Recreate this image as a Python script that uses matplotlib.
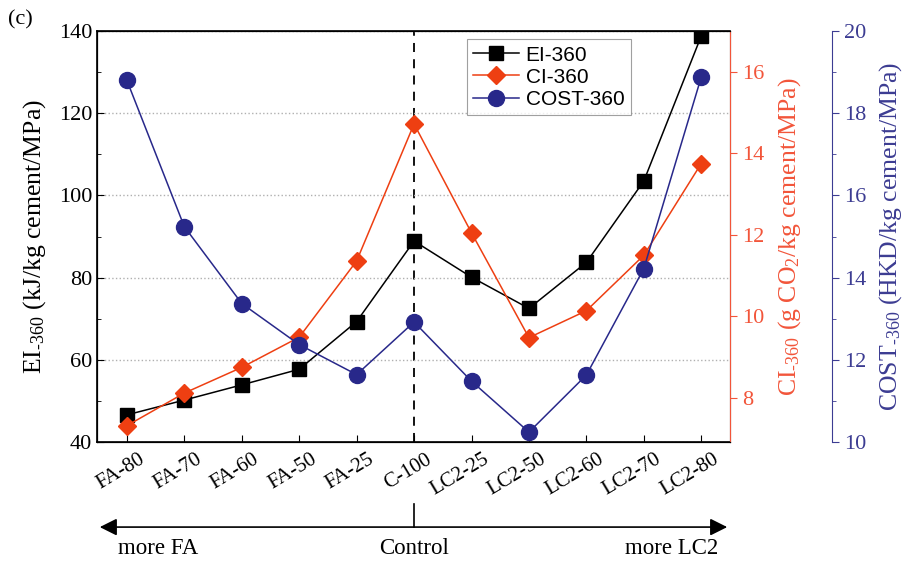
import matplotlib.pyplot as plt
from matplotlib.ticker import MultipleLocator
from matplotlib.transforms import ScaledTranslation

plt.rcParams['font.family'] = 'Liberation Serif'
plt.rcParams['mathtext.fontset'] = 'custom'
plt.rcParams['mathtext.rm'] = 'Liberation Serif'
plt.rcParams['mathtext.it'] = 'Liberation Serif:italic'

# Data
mixes = ["FA-80", "FA-70", "FA-60", "FA-50", "FA-25", "C-100",
         "LC2-25", "LC2-50", "LC2-60", "LC2-70", "LC2-80"]
ei_360 = [46.6, 50.2, 53.9, 57.7, 69.3, 88.9, 80.1, 72.5, 83.7, 103.5, 138.8]
ci_360 = [7.32, 8.12, 8.75, 9.49, 11.36, 14.72, 12.05, 9.48, 10.14, 11.50, 13.75]
cost_360 = [18.80, 15.24, 13.37, 12.37, 11.64, 12.92, 11.48, 10.24, 11.63, 14.22, 18.88]

red = '#EE3F12'
red_axis = '#F2553A'
blue = '#28288A'
blue_axis = '#3C3C92'

x = list(range(len(mixes)))
sub = '$_{\\mathregular{\u2010360}}$'   # "-360" subscript with a plain hyphen

fig = plt.figure(figsize=(9.04, 5.64), dpi=100)
ax = fig.add_axes([0.1073, 0.2163, 0.7002, 0.7287])
ax2 = ax.twinx()
ax3 = ax.twinx()
ax3.spines['right'].set_position(('outward', 102 * 72 / 100))

l1, = ax.plot(x, ei_360, color='black', marker='s', markersize=9.5, lw=1.1, label='EI-360', zorder=3)
l2, = ax2.plot(x, ci_360, color=red, marker='D', markersize=9.5, lw=1.1, label='CI-360')
l3, = ax3.plot(x, cost_360, color=blue, marker='o', markersize=11.5, lw=1.1, label='COST-360')

ax.set_xlim(-0.52, 10.5)
ax.set_ylim(40, 140)
ax2.set_ylim(6.92, 17.0)
ax3.set_ylim(10, 20)

# grid + control line
ax.yaxis.grid(True, linestyle=':', color='#b0b0b0', lw=1.0)
ax.axvline(5, color='black', ls=(0, (5, 4)), lw=1.3, zorder=1)

# x tick labels drawn as texts so they can sit a little right of each tick
ax.set_xticks(x)
ax.set_xticklabels([])
ax.tick_params(axis='x', direction='in', length=5)
tr = ax.get_xaxis_transform()
shift = ScaledTranslation(21 / 100, -8 / 100, fig.dpi_scale_trans)
for i, name in zip(x, mixes):
    ax.text(i, 0, name, transform=tr + shift, rotation=31, ha='right', va='top', fontsize=15)

ax.yaxis.set_major_locator(MultipleLocator(20))
ax.yaxis.set_minor_locator(MultipleLocator(10))
ax.tick_params(axis='y', which='both', direction='in', labelsize=16)
ax.tick_params(axis='y', which='major', length=5)
ax.tick_params(axis='y', which='minor', length=3)
ax.set_ylabel('EI' + sub + ' (kJ/kg cement/MPa)', fontsize=18.5, labelpad=8)

ax2.yaxis.set_major_locator(MultipleLocator(2))
ax2.tick_params(axis='y', colors=red_axis, labelsize=16, direction='out', length=5)
ax2.spines['right'].set_color(red_axis)
ax2.set_ylabel('CI' + sub + ' (g CO$_2$/kg cement/MPa)', fontsize=18.5, color=red_axis, labelpad=9)

ax3.yaxis.set_major_locator(MultipleLocator(2))
ax3.yaxis.set_minor_locator(MultipleLocator(1))
ax3.tick_params(axis='y', which='both', colors=blue_axis, labelsize=16, direction='out')
ax3.tick_params(axis='y', which='major', length=5)
ax3.tick_params(axis='y', which='minor', length=3)
ax3.spines['right'].set_color(blue_axis)
ax3.set_ylabel('COST' + sub + ' (HKD/kg cement/MPa)', fontsize=18.5, color=blue_axis, labelpad=8)

for sp in ['left', 'top', 'bottom']:
    ax.spines[sp].set_linewidth(1.2)

leg = ax.legend([l1, l2, l3], ['EI-360', 'CI-360', 'COST-360'], loc='upper left',
                bbox_to_anchor=(0.575, 0.995), prop={'family': 'Liberation Sans', 'size': 15},
                fancybox=False, edgecolor='#888888', handlelength=2.2, borderpad=0.3,
                labelspacing=0.15, handletextpad=0.3, borderaxespad=0.3)
leg.get_frame().set_linewidth(0.8)

# bottom direction arrow
ax.annotate('', xy=(0, -0.207), xytext=(1, -0.207), xycoords='axes fraction',
            textcoords='axes fraction',
            arrowprops=dict(arrowstyle='<|-|>', color='black', lw=1.2, mutation_scale=26),
            annotation_clip=False)
ax.plot([5, 5], [-0.207, -0.15], transform=tr, color='black', lw=1.2, clip_on=False)
ax.text(0.033, -0.258, 'more FA', transform=ax.transAxes, ha='left', va='center', fontsize=16.5)
ax.text(5, -0.258, 'Control', transform=tr, ha='center', va='center', fontsize=16.5)
ax.text(0.981, -0.258, 'more LC2', transform=ax.transAxes, ha='right', va='center', fontsize=16.5)

fig.text(0.009, 0.965, '(c)', fontsize=16, ha='left', va='center')

fig.savefig('out.png', dpi=100)
